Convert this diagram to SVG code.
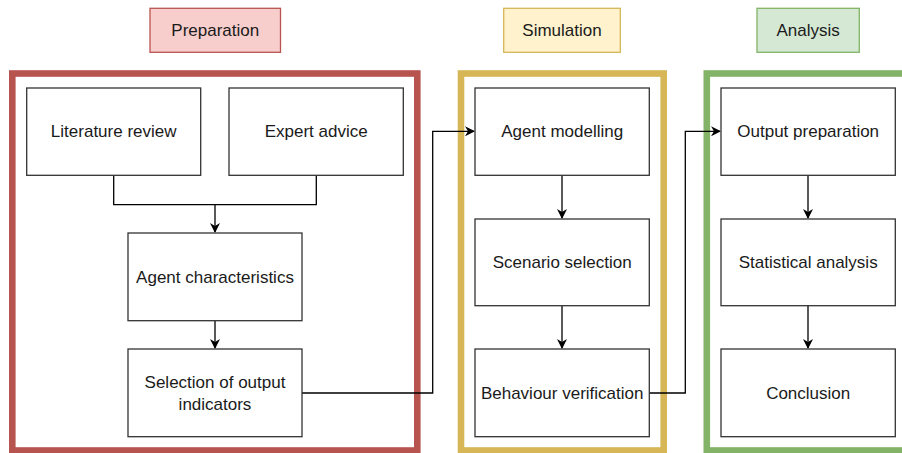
<svg xmlns="http://www.w3.org/2000/svg" width="902" height="453" viewBox="0 0 902 453">
<style>
text{font-family:"Liberation Sans",Arial,Helvetica,sans-serif;font-size:17px;fill:#1a1a1a;text-anchor:middle}
.box{fill:#ffffff;stroke:#333333;stroke-width:1.3}
.cont{fill:none;stroke-width:6.6}
.conn{fill:none;stroke:#000000;stroke-width:1.3}
</style>
<defs>
<marker id="arr" viewBox="0 0 10 10" refX="9" refY="5" markerWidth="10" markerHeight="10" markerUnits="userSpaceOnUse" orient="auto">
<path d="M0,0 L10,5 L0,10 L3,5 Z" fill="#000000"/>
</marker>
</defs>
<rect width="902" height="453" fill="#ffffff"/>
<g id="containers">
<rect class="cont" x="12.3" y="73.5" width="405" height="377" stroke="#b85450"/>
<rect class="cont" x="461" y="73.5" width="202.7" height="377" stroke="#d6b656"/>
<rect class="cont" x="706.8" y="73.5" width="210" height="377" stroke="#82b366"/>
</g>
<g id="label-preparation"><rect x="150" y="8.3" width="130.5" height="44" fill="#f8cecc" stroke="#b85450" stroke-width="1.3"/><text x="215.3" y="36">Preparation</text></g>
<g id="label-simulation"><rect x="503.7" y="8.3" width="116.6" height="44" fill="#fff2cc" stroke="#d6b656" stroke-width="1.3"/><text x="562" y="36">Simulation</text></g>
<g id="label-analysis"><rect x="757" y="8.3" width="102.3" height="44" fill="#d5e8d4" stroke="#82b366" stroke-width="1.3"/><text x="808.2" y="36">Analysis</text></g>
<g id="connectors">
<path class="conn" d="M113.7,175.3 V204.7 H316.3 V175.3"/>
<path class="conn" d="M215,204.7 V232" marker-end="url(#arr)"/>
<path class="conn" d="M215,320.7 V348" marker-end="url(#arr)"/>
<path class="conn" d="M302,393 H432.7 V131.3 H474" marker-end="url(#arr)"/>
<path class="conn" d="M562,175.3 V218" marker-end="url(#arr)"/>
<path class="conn" d="M562,305.7 V348" marker-end="url(#arr)"/>
<path class="conn" d="M649.3,393 H685.3 V131.3 H720" marker-end="url(#arr)"/>
<path class="conn" d="M808,175.3 V218" marker-end="url(#arr)"/>
<path class="conn" d="M808,305.7 V348" marker-end="url(#arr)"/>
</g>
<g id="literature-review"><rect class="box" x="26.7" y="88" width="174" height="87.3"/><text x="113.7" y="137">Literature review</text></g>
<g id="expert-advice"><rect class="box" x="229" y="88" width="174.3" height="87.3"/><text x="316.2" y="137">Expert advice</text></g>
<g id="agent-characteristics"><rect class="box" x="128" y="233" width="174" height="87.7"/><text x="215" y="283">Agent characteristics</text></g>
<g id="selection-output"><rect class="box" x="128" y="349" width="174" height="87.7"/><text x="215" y="388">Selection of output</text><text x="215" y="409.7">indicators</text></g>
<g id="agent-modelling"><rect class="box" x="475" y="88" width="174.3" height="87.3"/><text x="562.2" y="137">Agent modelling</text></g>
<g id="scenario-selection"><rect class="box" x="475" y="219" width="174.3" height="86.7"/><text x="562.2" y="268">Scenario selection</text></g>
<g id="behaviour-verification"><rect class="box" x="475" y="349" width="174.3" height="87.7"/><text x="562.2" y="399">Behaviour verification</text></g>
<g id="output-preparation"><rect class="box" x="721" y="88" width="174.3" height="87.3"/><text x="808.2" y="137">Output preparation</text></g>
<g id="statistical-analysis"><rect class="box" x="721" y="219" width="174.3" height="86.7"/><text x="808.2" y="268">Statistical analysis</text></g>
<g id="conclusion"><rect class="box" x="721" y="349" width="174.3" height="87.7"/><text x="808.2" y="399">Conclusion</text></g>
</svg>
